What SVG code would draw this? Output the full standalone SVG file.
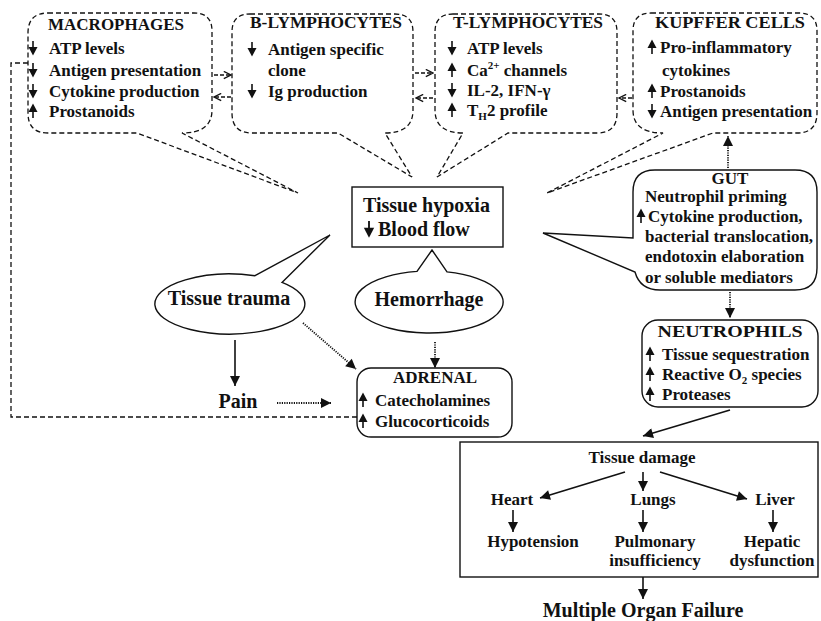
<svg xmlns="http://www.w3.org/2000/svg" xmlns:xlink="http://www.w3.org/1999/xlink" width="821" height="621" viewBox="0 0 821 621">
  <style>
    .t { font-family: "Liberation Serif", "Times New Roman", serif; font-weight: bold; font-size: 17px; fill: #111; }
    .big { font-size: 20px; }
    .mid { text-anchor: middle; }
    .bub { fill: #fff; stroke: #111; stroke-width: 1.3; stroke-dasharray: 5 3; }
    .box { fill: #fff; stroke: #111; stroke-width: 1.4; }
    .dash { fill: none; stroke: #111; stroke-width: 1.3; stroke-dasharray: 5 3; }
    .xch { fill: none; stroke: #111; stroke-width: 1.3; stroke-dasharray: 4 2; marker-end: url(#chev); }
    .solid { fill: none; stroke: #111; stroke-width: 1.6; marker-end: url(#ah); }
    .dot { fill: none; stroke: #111; stroke-width: 1.8; stroke-dasharray: 1.2 1.2; marker-end: url(#ah); }
  </style>
  <defs>
    <marker id="ah" viewBox="0 0 10 10" refX="10" refY="5" markerWidth="11" markerHeight="10" markerUnits="userSpaceOnUse" orient="auto">
      <path d="M0,0 L10,5 L0,10 Z" fill="#111"/>
    </marker>
    <marker id="chev" viewBox="0 0 10 10" refX="9" refY="5" markerWidth="9" markerHeight="9" markerUnits="userSpaceOnUse" orient="auto">
      <path d="M1,1 L9,5 L1,9" fill="none" stroke="#111" stroke-width="1.5"/>
    </marker>
    <!-- small change glyphs: down / up -->
    <g id="dn"><line x1="0" y1="-7" x2="0" y2="1" stroke="#111" stroke-width="1.6"/><path d="M-4.5,-1 H4.5 L0,7.5 Z" fill="#111"/></g>
    <g id="up"><line x1="0" y1="-1" x2="0" y2="7" stroke="#111" stroke-width="1.6"/><path d="M-4.5,1 H4.5 L0,-7.5 Z" fill="#111"/></g>
  </defs>

  <rect width="821" height="621" fill="#fff"/>

  <g id="macrophages">
    <path class="bub" d="M48,13 H194 Q212,13 212,31 V110 Q212,133 182,133 L298,193 L137,133 H48 Q28,133 28,113 V33 Q28,13 48,13 Z"/>
    <text class="t" x="48" y="30">MACROPHAGES</text>
    <use xlink:href="#dn" x="33" y="48"/><text class="t" x="49" y="54">ATP levels</text>
    <use xlink:href="#dn" x="33" y="70"/><text class="t" x="49" y="76">Antigen presentation</text>
    <use xlink:href="#dn" x="33" y="91"/><text class="t" x="49" y="97">Cytokine production</text>
    <use xlink:href="#up" x="33" y="111"/><text class="t" x="49" y="117">Prostanoids</text>
  </g>

  <g id="b-lymphocytes">
    <path class="bub" d="M250,14 H395 Q413,14 413,32 V110 Q413,133 385,133 L412,177 L338,133 H252 Q232,133 232,113 V32 Q232,14 250,14 Z"/>
    <text class="t" x="250" y="28" textLength="152" lengthAdjust="spacingAndGlyphs">B-LYMPHOCYTES</text>
    <use xlink:href="#dn" x="252" y="49"/><text class="t" x="268" y="55">Antigen specific</text>
    <text class="t" x="268" y="76">clone</text>
    <use xlink:href="#dn" x="252" y="91"/><text class="t" x="268" y="97">Ig production</text>
  </g>

  <g id="t-lymphocytes">
    <path class="bub" d="M453,14 H599 Q617,14 617,32 V113 Q617,133 597,133 H508 L437,177 L463,133 Q435,133 435,110 V32 Q435,14 453,14 Z"/>
    <text class="t" x="453" y="28" textLength="150" lengthAdjust="spacingAndGlyphs">T-LYMPHOCYTES</text>
    <use xlink:href="#dn" x="452" y="48"/><text class="t" x="467" y="54">ATP levels</text>
    <use xlink:href="#up" x="452" y="70"/><text class="t" x="467" y="76">Ca<tspan font-size="11" dy="-7">2+</tspan><tspan dy="7"> channels</tspan></text>
    <use xlink:href="#dn" x="452" y="90"/><text class="t" x="467" y="96">IL-2, IFN-γ</text>
    <use xlink:href="#up" x="452" y="110"/><text class="t" x="467" y="116">T<tspan font-size="11" dy="4">H</tspan><tspan dy="-4">2 profile</tspan></text>
  </g>

  <g id="kupffer-cells">
    <path class="bub" d="M651,13 H799 Q817,13 817,31 V113 Q817,133 797,133 H713 L547,193 L663,133 Q633,133 633,110 V31 Q633,13 651,13 Z"/>
    <text class="t" x="655" y="28" textLength="150" lengthAdjust="spacingAndGlyphs">KUPFFER CELLS</text>
    <use xlink:href="#up" x="652" y="47"/><text class="t" x="660" y="53">Pro-inflammatory</text>
    <text class="t" x="662" y="76">cytokines</text>
    <use xlink:href="#up" x="652" y="91"/><text class="t" x="660" y="97">Prostanoids</text>
    <use xlink:href="#dn" x="652" y="111"/><text class="t" x="660" y="117">Antigen presentation</text>
  </g>

  <g id="tissue-hypoxia">
    <rect class="box" x="352" y="187" width="151" height="60"/>
    <text class="t big" x="363" y="212">Tissue hypoxia</text>
    <use xlink:href="#dn" transform="translate(369,229) scale(1.15)"/>
    <text class="t big" x="378" y="236">Blood flow</text>
  </g>

  <g id="tissue-trauma">
    <path class="box" d="M255,275.7 L330,235 L282,282.4 A75,30 0 1 1 255,275.7 Z"/>
    <text class="t big mid" x="229" y="305">Tissue trauma</text>
  </g>

  <g id="hemorrhage">
    <path class="box" d="M417,271.4 L432,250 L447,271.9 A74,31 0 1 1 417,271.4 Z"/>
    <text class="t big mid" x="429" y="306">Hemorrhage</text>
  </g>

  <g id="pain">
    <text class="t big mid" x="238" y="408">Pain</text>
  </g>

  <g id="adrenal">
    <rect class="box" x="357" y="368" width="155" height="69" rx="14"/>
    <text class="t mid" x="435" y="383">ADRENAL</text>
    <use xlink:href="#up" x="363" y="400"/><text class="t" x="375" y="406">Catecholamines</text>
    <use xlink:href="#up" x="363" y="421"/><text class="t" x="375" y="427">Glucocorticoids</text>
  </g>

  <g id="gut">
    <path class="box" d="M655,170 H795 Q817,170 817,192 V268 Q817,290 795,290 H660 Q640,290 635,272 L543,233 L633,238 V192 Q633,170 655,170 Z"/>
    <text class="t mid" x="730" y="184" font-size="16">GUT</text>
    <text class="t" x="645" y="202">Neutrophil priming</text>
    <use xlink:href="#up" x="641" y="216"/><text class="t" x="648" y="222">Cytokine production,</text>
    <text class="t" x="645" y="242">bacterial translocation,</text>
    <text class="t" x="645" y="262">endotoxin elaboration</text>
    <text class="t" x="645" y="283">or soluble mediators</text>
  </g>

  <g id="neutrophils">
    <rect class="box" x="642" y="320" width="176" height="87" rx="16"/>
    <text class="t mid" x="730" y="337" textLength="145" lengthAdjust="spacingAndGlyphs">NEUTROPHILS</text>
    <use xlink:href="#up" x="650" y="354"/><text class="t" x="662" y="360">Tissue sequestration</text>
    <use xlink:href="#up" x="650" y="374"/><text class="t" x="662" y="380">Reactive O<tspan font-size="11" dy="4">2</tspan><tspan dy="-4"> species</tspan></text>
    <use xlink:href="#up" x="650" y="394"/><text class="t" x="662" y="400">Proteases</text>
  </g>

  <g id="tissue-damage">
    <rect class="box" x="460" y="442" width="358" height="135"/>
    <text class="t mid" x="642" y="463">Tissue damage</text>
    <text class="t mid" x="512" y="505">Heart</text>
    <text class="t mid" x="653" y="505">Lungs</text>
    <text class="t mid" x="775" y="505">Liver</text>
    <text class="t mid" x="533" y="547">Hypotension</text>
    <text class="t mid" x="655" y="547">Pulmonary</text>
    <text class="t mid" x="655" y="566">insufficiency</text>
    <text class="t mid" x="772" y="547">Hepatic</text>
    <text class="t mid" x="772" y="566">dysfunction</text>
  </g>

  <g id="multiple-organ-failure">
    <text class="t big mid" x="643" y="617">Multiple Organ Failure</text>
  </g>

  <!-- connectors, drawn above the node fills -->
  <g id="connectors">
    <path class="dash" d="M28,63 H11 V417 H357"/>
    <line class="xch" x1="214" y1="75" x2="231" y2="75"/>
    <line class="xch" x1="231" y1="97" x2="214" y2="97"/>
    <line class="xch" x1="415" y1="73" x2="433" y2="73"/>
    <line class="xch" x1="433" y1="98" x2="416" y2="98"/>
    <line class="xch" x1="632" y1="98" x2="619" y2="98"/>
    <line class="solid" x1="235" y1="340" x2="235" y2="386"/>
    <line class="dot" x1="277" y1="403" x2="331" y2="403"/>
    <line class="dot" x1="303" y1="323" x2="356" y2="369"/>
    <line class="dot" x1="435" y1="342" x2="435" y2="368"/>
    <line class="dot" x1="728" y1="168" x2="728" y2="136"/>
    <line class="dot" x1="730" y1="292" x2="730" y2="318"/>
    <line class="solid" x1="730" y1="410" x2="643" y2="436"/>
    <line class="solid" x1="625" y1="472" x2="540" y2="498"/>
    <line class="solid" x1="643" y1="472" x2="643" y2="491"/>
    <line class="solid" x1="660" y1="472" x2="747" y2="499"/>
    <line class="solid" x1="513" y1="510" x2="513" y2="532"/>
    <line class="solid" x1="643" y1="510" x2="643" y2="532"/>
    <line class="solid" x1="773" y1="510" x2="773" y2="532"/>
    <line class="solid" x1="643" y1="577" x2="643" y2="599"/>
  </g>
</svg>
